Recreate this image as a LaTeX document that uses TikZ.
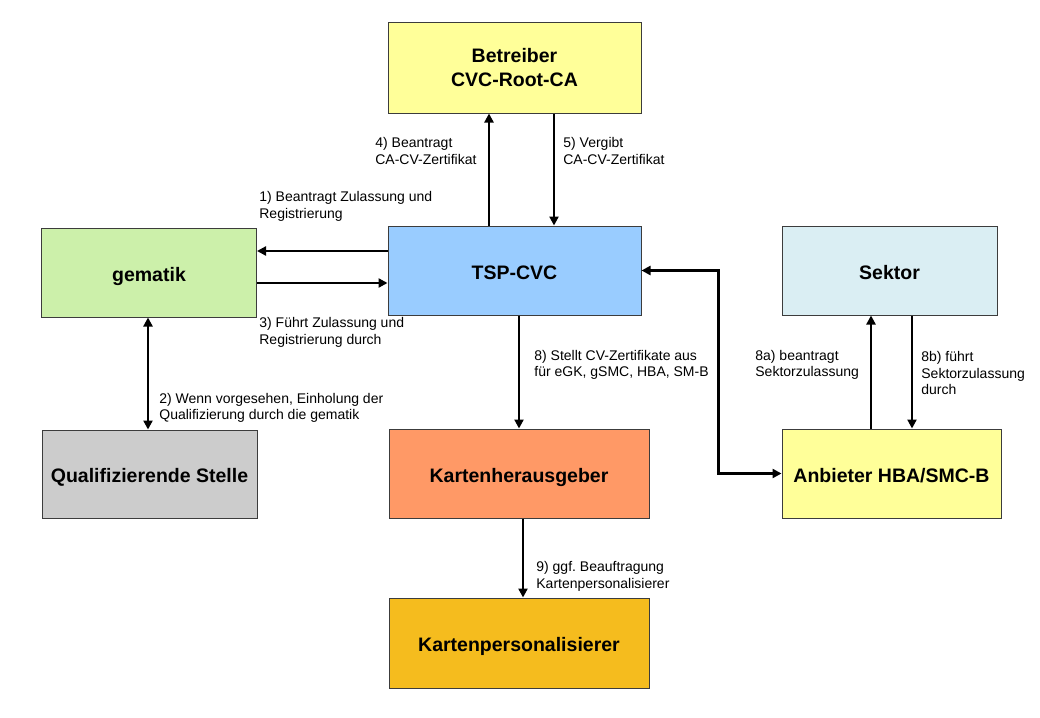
\documentclass[tikz,border=0pt]{standalone}
\usepackage{fontspec}
\setmainfont{Liberation Sans}
\usetikzlibrary{arrows.meta}
\frenchspacing

\tikzset{every picture/.style={line width=0.75pt}}
\tikzset{
  box/.style={draw={rgb, 255:red, 60; green, 60; blue, 60 }, line width=1pt, inner sep=0pt, align=center,
    font=\fontsize{19.5}{24}\selectfont\bfseries},
  oneline/.style={text height=17pt, text depth=0pt},
  link/.style={line width=2.4pt, >={Triangle[length=9pt,width=9pt]}},
  note/.style={anchor=west, inner sep=0pt, align=left, font=\fontsize{14}{16.5}\selectfont},
}

\begin{document}
\begin{tikzpicture}[x=1pt,y=1pt,yscale=-1,xscale=1]
\useasboundingbox (0,0) rectangle (1040,717);

% Boxes
\draw (514.5,68) node (root) [box, minimum width=253pt, minimum height=90pt, fill={rgb, 255:red, 255; green, 255; blue, 153 }] {Betreiber\\CVC-Root-CA};
\draw (514.5,270.5) node (tsp) [box, oneline, minimum width=253pt, minimum height=89pt, fill={rgb, 255:red, 153; green, 204; blue, 255 }] {TSP-CVC};
\draw (149,272.5) node (gematik) [box, oneline, minimum width=215pt, minimum height=89pt, fill={rgb, 255:red, 204; green, 240; blue, 170 }] {gematik};
\draw (149.5,474) node (qual) [box, oneline, minimum width=215pt, minimum height=88pt, fill={rgb, 255:red, 204; green, 204; blue, 204 }] {Qualifizierende Stelle};
\draw (519,473.5) node (hrsg) [box, oneline, minimum width=260pt, minimum height=89pt, fill={rgb, 255:red, 255; green, 153; blue, 102 }] {Kartenherausgeber};
\draw (519,643) node (pers) [box, oneline, minimum width=260pt, minimum height=90pt, fill={rgb, 255:red, 245; green, 188; blue, 30 }] {Kartenpersonalisierer};
\draw (889.5,270.5) node (sektor) [box, oneline, minimum width=215pt, minimum height=89pt, fill={rgb, 255:red, 218; green, 238; blue, 243 }] {Sektor};
\draw (891.5,473.5) node (anb) [box, oneline, minimum width=219pt, minimum height=89pt, fill={rgb, 255:red, 255; green, 255; blue, 153 }] {Anbieter HBA/SMC-B};

% Straight Lines
\draw [link,->] (tsp.west |- 0,251) -- (gematik.east |- 0,251);
\draw [link,->] (gematik.east |- 0,283) -- (tsp.west |- 0,283);
\draw [link,->] (tsp.north -| 489,0) -- (root.south -| 489,0);
\draw [link,->] (root.south -| 554,0) -- (tsp.north -| 554,0);
\draw [link,<->] (gematik.south -| 148,0) -- (qual.north -| 148,0);
\draw [link,->] (tsp.south -| hrsg.north) -- (hrsg.north);
\draw [link,->] (hrsg.south -| 523,0) -- (pers.north -| 523,0);
\draw [link,->] (anb.north -| 871,0) -- (sektor.south -| 871,0);
\draw [link,->] (sektor.south -| 912,0) -- (anb.north -| 912,0);
\draw [link,<->] (tsp.east) -| ([xshift=-63pt]anb.west) -- (anb.west);

% Text Node
\draw (375,151) node (n4) [note] {4) Beantragt\\CA-CV-Zertifikat};
% Text Node
\draw (563,151) node (n5) [note] {5) Vergibt\\CA-CV-Zertifikat};
% Text Node
\draw (259,206.5) node (n1) [note] {1) Beantragt Zulassung und\\Registrierung};
% Text Node
\draw (259,332.5) node (n3) [note] {3) Führt Zulassung und\\Registrierung durch};
% Text Node
\draw (159,408) node (n2) [note] {2) Wenn vorgesehen, Einholung der\\Qualifizierung durch die gematik};
% Text Node
\draw (534,365) node (n8) [note] {8) Stellt CV-Zertifikate aus\\für eGK, gSMC, HBA, SM-B};
% Text Node
\draw (755,365) node (n8a) [note] {8a) beantragt\\Sektorzulassung};
% Text Node
\draw (921,373) node (n8b) [note] {8b) führt\\Sektorzulassung\\durch};
% Text Node
\draw (536,576.5) node (n9) [note] {9) ggf. Beauftragung\\Kartenpersonalisierer};

\end{tikzpicture}
\end{document}
